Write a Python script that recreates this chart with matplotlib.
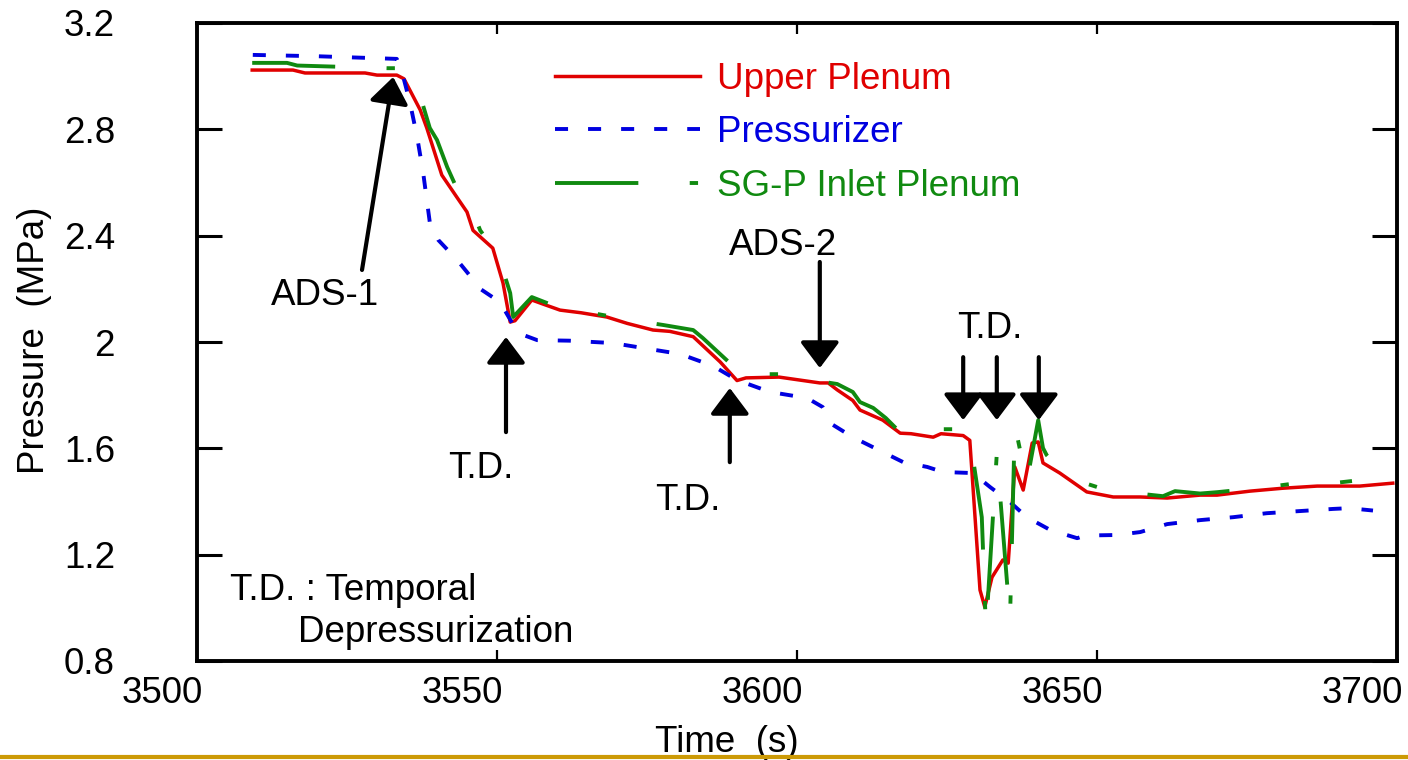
import numpy as np
import matplotlib
matplotlib.use("Agg")
import matplotlib.pyplot as plt
from matplotlib.lines import Line2D
from matplotlib.transforms import ScaledTranslation

plt.rcParams['font.family'] = ['Liberation Sans', 'DejaVu Sans']
plt.rcParams['lines.scale_dashes'] = False

# Upper Plenum (red)
t_up = [3509.2, 3516, 3518, 3528, 3530, 3533.3, 3534.5, 3537.2, 3538.3, 3540.8,
        3543.3, 3545, 3546, 3549.3, 3551, 3552.2, 3553, 3555.8, 3558, 3560.5,
        3564, 3568.3, 3571.7, 3576, 3578.8, 3582.7, 3587.2, 3590, 3591.5, 3597,
        3603.8, 3605.2, 3606.7, 3609.3, 3610.5, 3614.3, 3617.2, 3619, 3622.7, 3624,
        3627.7, 3628.8, 3630.5, 3631.3, 3632.5, 3634.3, 3635.2, 3636.3, 3637.7, 3639.2,
        3640.2, 3641, 3643.8, 3648.3, 3652.7, 3657.2, 3661.7, 3667.2, 3670, 3675.5,
        3681, 3686.7, 3693.8, 3699.3]
p_up = [3.023, 3.023, 3.012, 3.012, 3.004, 3.004, 2.99, 2.873, 2.805, 2.628,
        2.545, 2.489, 2.42, 2.353, 2.222, 2.075, 2.08, 2.158, 2.14, 2.12,
        2.11, 2.094, 2.07, 2.045, 2.04, 2.02, 1.925, 1.855, 1.865, 1.868,
        1.846, 1.846, 1.82, 1.78, 1.744, 1.706, 1.657, 1.655, 1.642, 1.655,
        1.648, 1.63, 1.067, 1.003, 1.115, 1.18, 1.168, 1.53, 1.443, 1.62,
        1.624, 1.545, 1.507, 1.436, 1.417, 1.417, 1.413, 1.424, 1.424, 1.439,
        1.45, 1.458, 1.458, 1.469]

# Pressurizer (blue)
t_pz = [3509.3, 3520, 3533.3, 3534.3, 3535.5, 3536.7, 3537.7, 3538.8, 3540.2, 3543.3,
        3545, 3547.2, 3550.5, 3553.5, 3556.7, 3562, 3569.3, 3575, 3580.5, 3586,
        3590, 3595.5, 3601.7, 3604.3, 3606, 3609.3, 3614.3, 3617.7, 3621.7, 3624.3,
        3629.3, 3632.2, 3635.5, 3638.3, 3642.2, 3646.7, 3648, 3653.3, 3657.2, 3661.7,
        3667.2, 3672.7, 3678.3, 3683.8, 3689.3, 3692, 3696]
p_pz = [3.08, 3.075, 3.065, 3.004, 2.9, 2.77, 2.636, 2.45, 2.384, 2.31,
        2.263, 2.2, 2.15, 2.034, 2.007, 2.005, 1.996, 1.975, 1.955, 1.91,
        1.857, 1.812, 1.789, 1.755, 1.688, 1.642, 1.586, 1.548, 1.53, 1.511,
        1.507, 1.454, 1.398, 1.341, 1.293, 1.262, 1.272, 1.274, 1.285, 1.315,
        1.33, 1.341, 1.356, 1.364, 1.372, 1.375, 1.366]

# SG-P Inlet Plenum (green)
t_sg = [3509.2, 3515, 3516.7, 3531.8, 3533.8, 3535.2, 3537.5, 3538.8, 3540, 3541.7,
        3543.8, 3545.2, 3547.2, 3550.2, 3552.2, 3552.7, 3555.8, 3560, 3563.3, 3568,
        3572.2, 3577.7, 3582.7, 3584.3, 3588.8, 3590.2, 3591.7, 3597.7, 3603, 3606.7,
        3609.3, 3610.5, 3612.7, 3614.8, 3617.2, 3622.2, 3624, 3627.7, 3628.8, 3630.8,
        3631.5, 3633.3, 3635.5, 3636.3, 3638.3, 3640.2, 3641, 3641.6, 3643.8, 3648,
        3652, 3656, 3661, 3663, 3667.2, 3670, 3678.3, 3683.3, 3689.3, 3692.5]
p_sg = [3.05, 3.05, 3.04, 3.03, 3.03, 3.016, 2.903, 2.805, 2.76, 2.658,
        2.553, 2.534, 2.42, 2.327, 2.184, 2.094, 2.169, 2.132, 2.12, 2.10,
        2.083, 2.064, 2.045, 2.015, 1.921, 1.868, 1.879, 1.879, 1.855, 1.842,
        1.812, 1.774, 1.752, 1.714, 1.66, 1.65, 1.672, 1.672, 1.642, 1.341,
        0.916, 1.58, 0.955, 1.688, 1.473, 1.706, 1.601, 1.575, 1.518, 1.469,
        1.44, 1.432, 1.42, 1.439, 1.43, 1.435, 1.454, 1.469, 1.469, 1.477]

# annotations: label, text pos, arrow tail, arrow tip
notes = [("ADS-1", (3521.3, 2.139), (3527.5, 2.271), (3532.7, 2.997)),
         ("T.D.", (3547.3, 1.488), (3551.5, 1.661), (3551.5, 2.019)),
         ("T.D.", (3581.8, 1.368), (3588.8, 1.548), (3588.8, 1.827)),
         ("ADS-2", (3597.7, 2.327), (3603.8, 2.301), (3603.8, 1.902)),
         ("T.D.", (3632.2, 2.015), None, None)]
td_arrows_t = [3627.7, 3633.3, 3640.3]

fig = plt.figure(figsize=(14.08, 7.6), dpi=100)
ax = fig.add_axes([197/1408, 1-661/760, 1200/1408, 638/760])

ax.plot(t_up, p_up, color='#e00000', lw=2.5, label='Upper Plenum')
ax.plot(t_pz, p_pz, color='#0000e0', lw=2.8, linestyle=(0, (9.4, 14.4)), label='Pressurizer')
ax.plot(t_sg, p_sg, color='#108a10', lw=2.8, linestyle=(0, (60, 37, 6, 37)), label='SG-P Inlet Plenum')

ax.set_xlim(3500, 3700)
ax.set_ylim(0.8, 3.2)
ax.set_xticks([3500, 3550, 3600, 3650, 3700])
ax.set_yticks([0.8, 1.2, 1.6, 2.0, 2.4, 2.8, 3.2])
ax.set_yticklabels(['0.8', '1.2', '1.6', '2', '2.4', '2.8', '3.2'])
ax.tick_params(axis='y', direction='in', left=True, right=True, length=18, width=2.2,
               labelsize=26.5, pad=59)
ax.tick_params(axis='x', direction='in', bottom=True, top=True, length=8, width=1.6,
               labelsize=26.5, pad=11)
for s in ax.spines.values():
    s.set_linewidth(2.8)
shift = ScaledTranslation(-0.35, 0, fig.dpi_scale_trans)
for lab in ax.get_xticklabels():
    lab.set_transform(lab.get_transform() + shift)

ax.set_xlabel('Time  (s)', fontsize=26.5)
ax.xaxis.set_label_coords(0.4417, -0.10)
ax.set_ylabel('Pressure  (MPa)', fontsize=26.5)
ax.yaxis.set_label_coords(-0.121, 0.503)

leg = ax.legend(loc='upper left', bbox_to_anchor=(0.298, 0.939), frameon=False, fontsize=26.5,
                handlelength=3.95, handletextpad=0.45, labelspacing=0.5, borderpad=0,
                borderaxespad=0, labelcolor='linecolor')

arrow = dict(arrowstyle='-|>,head_length=0.4,head_width=0.3', color='k', lw=3,
             shrinkA=0, shrinkB=0, mutation_scale=40)
for label, tpos, tail, tip in notes:
    ax.text(tpos[0], tpos[1], label, fontsize=26.5, ha='center', va='baseline')
    if tail is not None:
        ax.annotate('', xy=tip, xytext=tail, arrowprops=arrow)
for ta in td_arrows_t:
    ax.annotate('', xy=(ta, 1.706), xytext=(ta, 1.943), arrowprops=arrow)

ax.text(0.0275, 0.0956, 'T.D. : Temporal', transform=ax.transAxes, fontsize=26.5,
        ha='left', va='baseline')
ax.text(0.084, 0.0298, 'Depressurization', transform=ax.transAxes, fontsize=26.5,
        ha='left', va='baseline')

fig.add_artist(Line2D([0, 1], [1-757/760, 1-757/760], transform=fig.transFigure,
                      color='#cc9a06', lw=3, zorder=10))

fig.savefig('out.png', dpi=100)
